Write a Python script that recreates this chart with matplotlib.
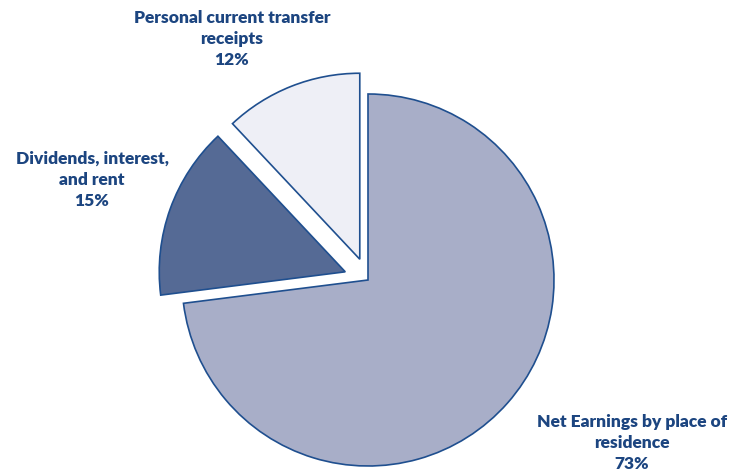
import matplotlib.pyplot as plt

# income components (share of total)
labels = ['Net Earnings by place of\nresidence', 'Dividends, interest,\nand rent', 'Personal current transfer\nreceipts']
shares = [73, 15, 12]
colors = ['#A8AEC8', '#556A95', '#EEEFF6']
explode = [0, 0.13, 0.12]

W, H = 730, 473
cx, cy, r = 368, 280, 186   # pie centre / radius in pixels

fig = plt.figure(figsize=(W / 100, H / 100), dpi=100)
ax = fig.add_axes([0, 0, 1, 1])

ax.pie(shares, colors=colors, explode=explode, startangle=90, counterclock=False,
       wedgeprops=dict(edgecolor='#1F4F8F', linewidth=1.2))

ax.set_xlim(-cx / r, (W - cx) / r)
ax.set_ylim(-(H - cy) / r, cy / r)
ax.set_aspect('auto')
ax.axis('off')

def px(x, y):
    return (x - cx) / r, (cy - y) / r

txt = dict(color='#1C4580', fontsize=12.5, fontweight='heavy', family='Lato',
           ha='center', va='center', linespacing=1.4)

# label positions in pixels
label_pos = [(632, 443), (92, 180), (232, 39)]
for lab, s, (x, y) in zip(labels, shares, label_pos):
    ax.text(*px(x, y), f'{lab}\n{s}%', **txt)

fig.savefig('out.png', dpi=100)
